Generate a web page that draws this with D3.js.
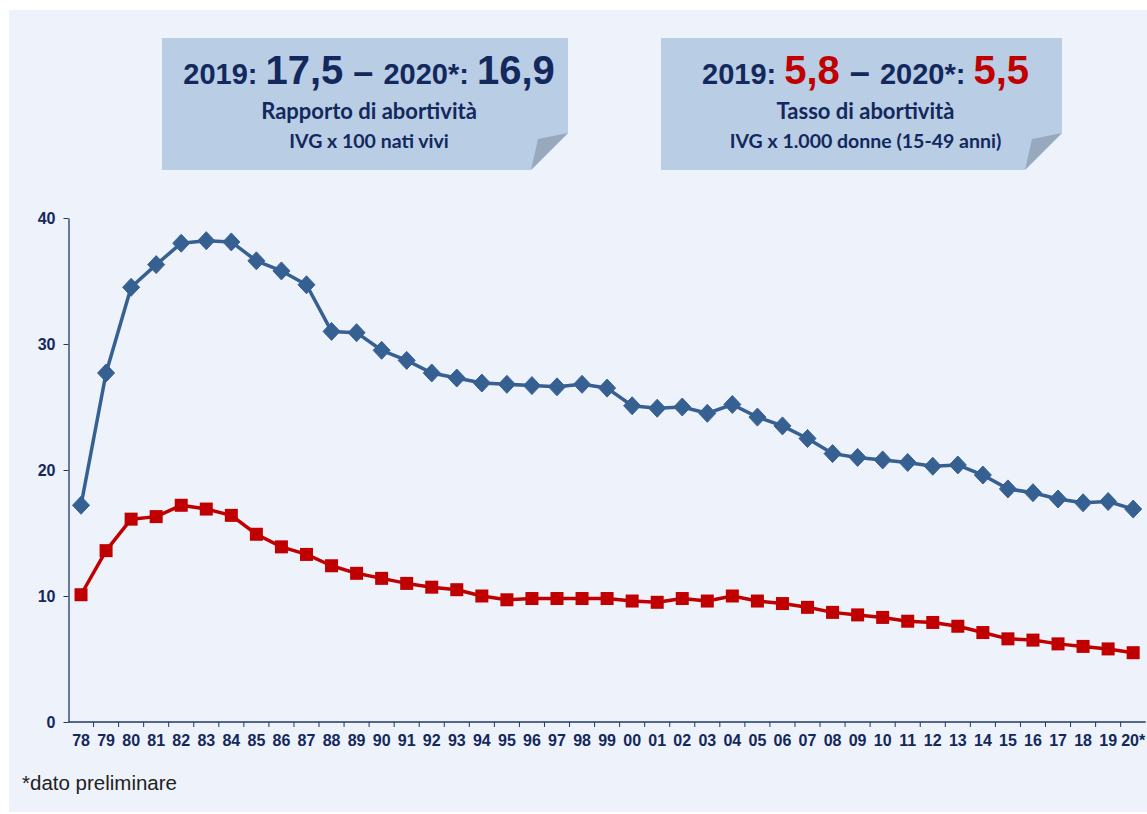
<!DOCTYPE html>
<html>
<head>
<meta charset="utf-8">
<script src="https://cdn.jsdelivr.net/npm/d3@7"></script>
<style>
  html, body { margin: 0; padding: 0; background: #fff; }
  svg { display: block; }
  .axis text { font-family: "Liberation Sans", Arial, sans-serif; font-weight: bold; font-size: 16px; fill: #13285c; }
  .axis path, .axis line { stroke: #1f3864; }
</style>
</head>
<body>
<div id="chart"></div>
<script>
const years = ['78','79','80','81','82','83','84','85','86','87','88','89','90','91','92','93','94','95','96','97','98','99',
  '00','01','02','03','04','05','06','07','08','09','10','11','12','13','14','15','16','17','18','19','20*'];

// Rapporto di abortivita (IVG x 100 nati vivi)
const rapporto = [17.2,27.7,34.5,36.3,38.0,38.2,38.1,36.6,35.8,34.7,31.0,30.9,29.5,28.7,27.7,27.3,26.9,26.8,26.7,26.6,26.8,26.5,
  25.1,24.9,25.0,24.5,25.2,24.2,23.5,22.5,21.3,21.0,20.8,20.6,20.3,20.4,19.6,18.5,18.2,17.7,17.4,17.5,16.9];

// Tasso di abortivita (IVG x 1.000 donne 15-49)
const tasso = [10.1,13.6,16.1,16.3,17.2,16.9,16.4,14.9,13.9,13.3,12.4,11.8,11.4,11.0,10.7,10.5,10.0,9.7,9.8,9.8,9.8,9.8,
  9.6,9.5,9.8,9.6,10.0,9.6,9.4,9.1,8.7,8.5,8.3,8.0,7.9,7.6,7.1,6.6,6.5,6.2,6.0,5.8,5.5];

const yTicks = [0, 10, 20, 30, 40];

const width = 1147,
  height = 814;

const navy = '#13285c';
const blue = '#376092';
const red = '#c00000';

const svg = d3.select('#chart').append('svg').attr('width', width).attr('height', height);

svg.append('rect')
  .attr('x', 9).attr('y', 10)
  .attr('width', width - 9).attr('height', 802)
  .attr('fill', '#eef2fa');

// the two note boxes with folded corner
const boxes = [
  { x0: 162, x1: 568, parts: [['2019: ', navy, 29], ['17,5', navy, 40], [' \u2013 ', navy, 36], ['2020*: ', navy, 29], ['16,9', navy, 40]],
    l2: 'Rapporto di abortività', l3: 'IVG x 100 nati vivi' },
  { x0: 661, x1: 1062, parts: [['2019: ', navy, 29], ['5,8', red, 40], [' \u2013 ', navy, 36], ['2020*: ', navy, 29], ['5,5', red, 40]],
    l2: 'Tasso di abortività', l3: 'IVG x 1.000 donne (15-49 anni)' }
];

boxes.forEach(b => {
  const y0 = 38, y1 = 170, f = 37;
  const g = svg.append('g');
  g.append('path')
    .attr('d', `M${b.x0},${y0}H${b.x1}V${y1 - f}L${b.x1 - f},${y1}H${b.x0}Z`)
    .attr('fill', '#b9cde5');
  g.append('path')
    .attr('d', `M${b.x1},${y1 - f}L${b.x1 - f},${y1}L${b.x1 - f + 7},${y1 - f + 6}Z`)
    .attr('fill', '#97a9be');
  const tx = (b.x0 + b.x1) / 2 + 4;
  const t1 = g.append('text')
    .attr('x', tx).attr('y', 84)
    .attr('text-anchor', 'middle')
    .style('font-family', '"Liberation Sans", Arial, sans-serif')
    .style('font-weight', 'bold');
  b.parts.forEach(p => {
    t1.append('tspan').attr('fill', p[1]).style('font-size', p[2] + 'px').text(p[0]);
  });
  g.append('text')
    .attr('x', tx).attr('y', 119)
    .attr('text-anchor', 'middle')
    .attr('fill', navy)
    .style('font-family', 'Lato, "Open Sans", sans-serif')
    .style('font-weight', 'bold')
    .style('font-size', '22px')
    .text(b.l2);
  g.append('text')
    .attr('x', tx).attr('y', 148)
    .attr('text-anchor', 'middle')
    .attr('fill', navy)
    .style('font-family', 'Lato, "Open Sans", sans-serif')
    .style('font-weight', 'bold')
    .style('font-size', '19.5px')
    .text(b.l3);
});

const plotLeft = 68.5, plotRight = 1145.7, plotTop = 218, plotBottom = 722;

const x = d3.scaleBand().domain(years).range([plotLeft, plotRight]).padding(0);
const y = d3.scaleLinear().domain([0, 40]).range([plotBottom, plotTop]);
const cx = d => x(d) + x.bandwidth() / 2;

// y axis
const yAxis = svg.append('g')
  .attr('class', 'axis')
  .attr('transform', `translate(${plotLeft},0)`)
  .call(d3.axisLeft(y).tickValues(yTicks).tickSize(5).tickSizeOuter(0).tickPadding(8));
yAxis.select('.domain').attr('stroke-width', 1.3);

// x axis: ticks at category boundaries
const xAxis = svg.append('g')
  .attr('class', 'axis')
  .attr('transform', `translate(0,${plotBottom})`)
  .call(d3.axisBottom(x).tickSize(0).tickPadding(13));
xAxis.select('.domain').remove();
xAxis.append('line')
  .attr('x1', plotLeft).attr('x2', plotRight)
  .attr('stroke', '#1f3864').attr('stroke-width', 1.3);
xAxis.selectAll('.bnd')
  .data(years.slice(1))
  .join('line')
  .attr('class', 'bnd')
  .attr('x1', d => x(d)).attr('x2', d => x(d))
  .attr('y1', 0).attr('y2', 5)
  .attr('stroke', '#1f3864');

const line = d3.line().x((d, i) => cx(years[i])).y(d => y(d));

svg.append('path')
  .datum(rapporto)
  .attr('d', line)
  .attr('fill', 'none')
  .attr('stroke', blue)
  .attr('stroke-width', 3.5)
  .attr('stroke-linejoin', 'round');

svg.append('path')
  .datum(tasso)
  .attr('d', line)
  .attr('fill', 'none')
  .attr('stroke', red)
  .attr('stroke-width', 3.5)
  .attr('stroke-linejoin', 'round');

svg.append('g')
  .selectAll('path')
  .data(rapporto)
  .join('path')
  .attr('transform', (d, i) => `translate(${cx(years[i])},${y(d)})`)
  .attr('d', 'M0,-9L8.5,0L0,9L-8.5,0Z')
  .attr('fill', blue)
  .attr('stroke', blue)
  .attr('stroke-width', 1)
  .attr('stroke-linejoin', 'round');

svg.append('g')
  .selectAll('rect')
  .data(tasso)
  .join('rect')
  .attr('x', (d, i) => cx(years[i]) - 6.5)
  .attr('y', d => y(d) - 6.5)
  .attr('width', 13)
  .attr('height', 13)
  .attr('fill', red);

svg.append('text')
  .attr('x', 22).attr('y', 790)
  .attr('fill', '#222')
  .style('font-family', '"Liberation Sans", Arial, sans-serif')
  .style('font-size', '20.5px')
  .text('*dato preliminare');
</script>
</body>
</html>
